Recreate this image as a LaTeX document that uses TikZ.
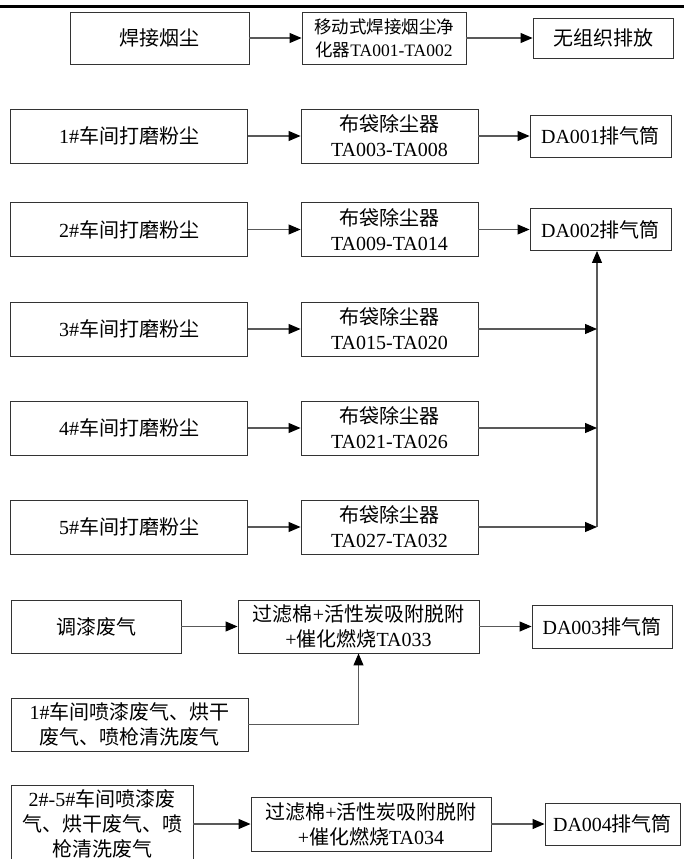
\documentclass[tikz,border=0pt]{standalone}
\usepackage{fontspec}
\setmainfont{Liberation Serif}
\newfontfamily\cjk{Noto Sans CJK SC}
\newcommand{\zh}[1]{{\cjk #1}}
\usetikzlibrary{arrows.meta}

\begin{document}
\begin{tikzpicture}[x=1pt,y=-1pt,
  box/.style={draw=black!80,line width=0.9pt,align=center,inner sep=0pt,
    font=\fontsize{20}{25}\selectfont},
  flow/.style={draw=black!65,line width=1.1pt,
    -{Triangle[length=12pt,width=10pt,color=black]}}]
  \useasboundingbox (0,0) rectangle (684,859);
  \draw[line width=3pt] (0,7) -- (684,7);

  % welding fume
  \node[box,minimum width=179pt,minimum height=52pt] (weld) at (159.5,38) {\zh{焊接烟尘}};
  \node[box,minimum width=164pt,minimum height=52pt,font=\fontsize{17.5}{23}\selectfont]
    (mobile) at (384,38) {\zh{移动式焊接烟尘净}\\\zh{化器}TA001-TA002};
  \node[box,minimum width=140pt,minimum height=40pt] (open) at (603,38) {\zh{无组织排放}};
  \draw[flow] (weld) -- (mobile);
  \draw[flow] (mobile) -- (open);

  % grinding dust, workshops 1-5
  \foreach \i/\y/\ta in {1/136/TA003-TA008,2/229.5/TA009-TA014,3/329/TA015-TA020,
                         4/428/TA021-TA026,5/527/TA027-TA032}
  {
    \node[box,minimum width=237pt,minimum height=54pt] (grind\i) at (129,\y)
      {\i\#\zh{车间打磨粉尘}};
    \node[box,minimum width=177pt,minimum height=54pt] (bag\i) at (389.5,\y)
      {\zh{布袋除尘器}\\\ta};
    \draw[flow] (grind\i) -- (bag\i);
  }
  \node[box,minimum width=141pt,minimum height=42pt] (da1) at (600.5,136) {DA001\zh{排气筒}};
  \node[box,minimum width=141pt,minimum height=42pt] (da2) at (600.5,229.5) {DA002\zh{排气筒}};
  \draw[flow] (bag1) -- (da1);
  \draw[flow] (bag2) -- (da2);
  \coordinate (bus) at (597,527);
  \draw[flow] (bus) -- (bus |- da2.south);
  \foreach \i in {3,4,5}
    \draw[flow] (bag\i) -- (bag\i -| bus);

  % painting, workshop 1
  \node[box,minimum width=170pt,minimum height=53pt] (mix) at (96,626.5) {\zh{调漆废气}};
  \node[box,minimum width=241pt,minimum height=53pt] (filt1) at (358.5,626.5)
    {\zh{过滤棉}+\zh{活性炭吸附脱附}\\+\zh{催化燃烧}TA033};
  \node[box,minimum width=140pt,minimum height=43pt] (da3) at (602,626.5) {DA003\zh{排气筒}};
  \node[box,minimum width=237pt,minimum height=53pt] (spray1) at (129.5,724.5)
    {1\#\zh{车间喷漆废气、烘干}\\\zh{废气、喷枪清洗废气}};
  \draw[flow] (mix) -- (filt1);
  \draw[flow] (filt1) -- (da3);
  \draw[flow] (spray1.east) -| (filt1.south);

  % painting, workshops 2-5
  \node[box,minimum width=182pt,minimum height=77pt] (spray2) at (102,823.5)
    {2\#-5\#\zh{车间喷漆废}\\\zh{气、烘干废气、喷}\\\zh{枪清洗废气}};
  \node[box,minimum width=240pt,minimum height=54pt] (filt2) at (371,824)
    {\zh{过滤棉}+\zh{活性炭吸附脱附}\\+\zh{催化燃烧}TA034};
  \node[box,minimum width=135pt,minimum height=42pt] (da4) at (612.5,824) {DA004\zh{排气筒}};
  \draw[flow] (spray2.east |- filt2.west) -- (filt2.west);
  \draw[flow] (filt2) -- (da4);
\end{tikzpicture}
\end{document}
